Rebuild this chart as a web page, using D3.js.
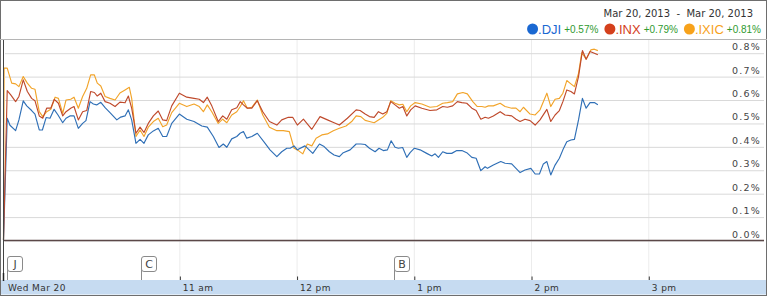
<!DOCTYPE html>
<html><head><meta charset="utf-8">
<script src="https://cdn.jsdelivr.net/npm/d3@7"></script>
<style>body{margin:0;background:#fff}svg{display:block}</style>
</head><body><svg id="c" width="767" height="296"></svg>
<script>
// ---- data (minutes after 9:30 open, % change) ----
const djiT = [0,1.9,3.3,6.2,7.9,10.1,11.9,14.4,16.1,18.3,19.9,21.8,23.8,25.9,27.9,30.3,32.0,34.0,36.1,38.3,40.5,42.2,44.3,46.0,47.7,49.8,52.0,54.5,58.0,60.0,62.2,63.9,65.6,67.8,69.9,71.9,74.1,76.7,79.2,81.5,83.5,86.1,90.0,93.8,97.5,101.5,104.3,107.4,110.3,112.5,114.3,116.8,119.4,121.1,122.8,124.5,127.1,129.9,133.9,136.4,139.9,142.4,145.0,146.7,148.7,150.4,154.3,158.3,161.7,164.1,166.8,169.2,171.9,173.9,177.4,180.5,182.9,185.1,187.3,190.2,192.2,194.4,196.5,198.4,200.4,202.1,204.3,206.4,208.1,210.3,213.2,216.6,219.2,220.9,222.6,224.8,226.9,229.4,232.0,234.6,237.1,239.7,241.9,244.3,246.5,247.7,250.7,254.5,256.7,260.1,262.3,264.4,266.9,269.9,272.1,274.3,276.3,278.1,280.1,282.3,284.5,286.3,288.3,290.4,292.2,294.3,296.3,298.2,300.2,302.4,304.2];
const djiV = [0,0.52,0.49,0.467,0.513,0.594,0.573,0.553,0.538,0.47,0.47,0.523,0.52,0.558,0.534,0.501,0.52,0.53,0.53,0.477,0.498,0.51,0.591,0.581,0.577,0.588,0.565,0.544,0.513,0.525,0.53,0.556,0.513,0.413,0.43,0.413,0.449,0.466,0.477,0.442,0.442,0.498,0.538,0.516,0.506,0.487,0.482,0.442,0.395,0.41,0.396,0.432,0.442,0.456,0.463,0.435,0.442,0.456,0.413,0.385,0.356,0.377,0.392,0.392,0.402,0.385,0.402,0.37,0.41,0.399,0.377,0.363,0.356,0.373,0.385,0.41,0.41,0.408,0.392,0.377,0.392,0.382,0.385,0.424,0.396,0.392,0.395,0.353,0.373,0.392,0.385,0.37,0.359,0.368,0.353,0.377,0.37,0.37,0.382,0.382,0.373,0.353,0.349,0.296,0.313,0.306,0.32,0.335,0.328,0.325,0.306,0.288,0.299,0.306,0.282,0.282,0.325,0.335,0.278,0.32,0.349,0.385,0.42,0.427,0.43,0.513,0.605,0.563,0.587,0.587,0.578];

const inxT = [0,1.9,3.7,6.2,7.9,10.1,12.2,14.4,16.1,18.3,20.1,22.1,24.2,26.0,28.1,30.3,32.0,34.4,36.1,38.3,40.5,42.6,44.6,46.5,48.0,49.8,52.0,54.5,57.1,59.6,62.2,63.9,65.6,67.8,69.9,71.9,74.1,76.7,79.2,81.5,83.5,86.1,90.0,93.8,97.5,100.2,102.3,104.3,106.6,109.9,112.2,114.3,116.8,119.4,121.2,122.8,124.8,127.1,129.9,132.7,136.1,139.9,142.4,145.8,148.0,150.4,153.5,157.8,162.0,165.8,169.2,171.9,176.0,180.5,182.5,185.1,187.3,189.7,191.9,194.1,196.2,198.2,200.4,202.6,204.4,206.4,208.4,210.7,214.1,218.3,221.8,224.8,227.2,229.9,232.3,234.6,237.1,239.7,241.9,244.3,246.5,248.2,250.7,254.2,256.7,260.1,262.3,264.4,266.9,269.5,272.1,274.6,278.1,280.1,282.3,284.5,286.3,288.3,290.4,292.2,294.3,296.3,298.2,300.2,302.4,304.2];
const inxV = [0,0.638,0.62,0.591,0.613,0.684,0.634,0.605,0.595,0.53,0.52,0.563,0.563,0.601,0.584,0.53,0.548,0.563,0.57,0.513,0.548,0.553,0.634,0.63,0.615,0.627,0.591,0.584,0.57,0.589,0.586,0.615,0.563,0.456,0.482,0.459,0.498,0.53,0.551,0.513,0.51,0.573,0.627,0.61,0.605,0.601,0.587,0.61,0.573,0.506,0.53,0.516,0.556,0.565,0.591,0.577,0.563,0.563,0.595,0.548,0.506,0.491,0.513,0.524,0.524,0.491,0.516,0.473,0.527,0.513,0.501,0.491,0.52,0.556,0.553,0.538,0.527,0.524,0.548,0.538,0.548,0.591,0.577,0.563,0.57,0.53,0.556,0.573,0.563,0.553,0.556,0.57,0.567,0.573,0.591,0.587,0.584,0.563,0.553,0.516,0.524,0.52,0.53,0.548,0.534,0.53,0.516,0.506,0.516,0.51,0.491,0.513,0.558,0.506,0.534,0.553,0.591,0.641,0.634,0.624,0.698,0.809,0.772,0.805,0.798,0.791];

const ixicT = [0,0.3,1.9,4.2,6.2,7.9,10.1,12.2,14.4,16.1,18.3,20.1,22.1,24.2,26.4,28.1,30.3,32.0,34.4,36.1,38.3,40.5,42.6,44.6,46.5,48.0,49.8,52.0,54.5,57.1,59.6,62.2,64.4,65.6,67.8,69.9,71.9,74.1,76.7,79.2,81.5,83.5,86.1,90.0,93.8,97.5,100.2,102.3,104.3,106.6,109.9,112.2,114.3,116.8,119.4,121.2,122.8,124.8,127.1,129.9,132.7,136.1,139.9,143.2,146.3,148.7,150.4,153.2,155.5,157.8,160.0,162.9,165.8,168.8,171.9,175.3,178.2,180.5,182.9,185.1,187.3,189.7,191.9,194.1,196.2,198.2,200.4,202.6,204.4,206.4,208.4,210.7,214.1,218.3,221.8,224.8,227.2,229.9,232.3,235.1,237.4,240.2,242.5,244.8,246.5,248.2,250.7,254.2,256.7,260.1,262.3,264.4,266.1,269.5,272.1,274.6,278.1,280.1,282.3,284.5,286.3,288.3,290.4,292.2,294.3,296.0,298.2,300.6,302.4,304.2];
const ixicV = [0,0.734,0.734,0.67,0.667,0.655,0.698,0.67,0.648,0.644,0.548,0.527,0.548,0.558,0.61,0.605,0.541,0.598,0.601,0.61,0.563,0.613,0.648,0.705,0.705,0.67,0.658,0.613,0.605,0.598,0.628,0.641,0.652,0.605,0.442,0.47,0.442,0.482,0.506,0.52,0.484,0.491,0.544,0.584,0.57,0.581,0.57,0.548,0.577,0.548,0.498,0.516,0.501,0.534,0.548,0.57,0.595,0.563,0.567,0.598,0.534,0.482,0.467,0.467,0.463,0.392,0.385,0.368,0.41,0.402,0.435,0.449,0.453,0.467,0.477,0.487,0.506,0.53,0.527,0.511,0.506,0.501,0.513,0.524,0.541,0.595,0.584,0.577,0.58,0.548,0.573,0.587,0.581,0.567,0.57,0.584,0.587,0.591,0.624,0.63,0.624,0.591,0.57,0.57,0.567,0.573,0.573,0.584,0.57,0.563,0.563,0.548,0.567,0.538,0.534,0.556,0.627,0.57,0.601,0.605,0.627,0.681,0.667,0.655,0.712,0.8,0.772,0.812,0.815,0.809];

const seriesNames = [".DJI", ".INX", ".IXIC"];
const seriesChange = ["+0.57%", "+0.79%", "+0.81%"];
const yTicks = [0,0.1,0.2,0.3,0.4,0.5,0.6,0.7,0.8];
const xTickMinutes = [90,150,210,270,330];
const xTickLabels = ["11 am","12 pm","1 pm","2 pm","3 pm"];
const dayLabel = "Wed Mar 20";
const dateRange = "Mar 20, 2013  -  Mar 20, 2013";
const flagLetters = ["J","C","B"];
const flagMinutes = [1.9, 70.2, 199.9];

// ---- drawing ----
const W = 767, H = 296;
const svg = d3.select("#c");
const x = d3.scaleLinear().domain([0, 390]).range([3.5, 765.5]);
const y = d3.scaleLinear().domain([0, 0.8]).range([240, 52.7]);
const lineColors = ["#2f6fb6", "#bf4a2c", "#f2a42a"];
const dotColors = ["#1a68d2", "#d4401c", "#f7a21b"];

// background border
svg.append("rect").attr("x",0.5).attr("y",0.5).attr("width",W-1).attr("height",H-1)
  .attr("fill","#fff").attr("stroke","#6e6e6e");

// vertical hour gridlines
svg.append("g").selectAll("line").data(xTickMinutes).join("line")
  .attr("x1", d => x(d)+0.5).attr("x2", d => x(d)+0.5)
  .attr("y1", 40).attr("y2", 280).attr("stroke", "#ececec");

// horizontal gridlines + labels via axis
const yAxis = d3.axisLeft(y).tickValues(yTicks).tickSize(W - 8).tickPadding(0).tickFormat(d => d3.format(".1f")(d) + "%");
const gy = svg.append("g").attr("transform", `translate(${W-3},0.5)`).call(yAxis);
gy.select(".domain").remove();
gy.selectAll(".tick line").attr("stroke", "#d9d9d9");
gy.selectAll(".tick text")
  .attr("x", -3).attr("dy", -3.5).attr("text-anchor","end")
  .style("font-family","DejaVu Sans, Verdana, sans-serif").style("font-size","9.5px")
  .style("letter-spacing","1.2px").attr("fill","#444");

// header separator
svg.append("line").attr("x1",0).attr("x2",W).attr("y1",39.5).attr("y2",39.5).attr("stroke","#b5b5b5");

// zero line
svg.append("line").attr("x1",x(0)).attr("x2",W-3).attr("y1",y(0)+0.5).attr("y2",y(0)+0.5)
  .attr("stroke","#5b4848").attr("stroke-width",1.3);

// series lines
const series = [
  {t: ixicT, v: ixicV, c: lineColors[2]},
  {t: djiT, v: djiV, c: lineColors[0]},
  {t: inxT, v: inxV, c: lineColors[1]}
];
const line = d3.line().x(d => x(d[0])).y(d => y(d[1]));
series.forEach(s => {
  svg.append("path").datum(d3.zip(s.t, s.v)).attr("d", line)
    .attr("fill","none").attr("stroke", s.c).attr("stroke-width",1.15).attr("stroke-linejoin","round");
});

// left axis line
svg.append("line").attr("x1",3.5).attr("x2",3.5).attr("y1",40).attr("y2",280).attr("stroke","#444");

// x axis band
svg.append("rect").attr("x",1).attr("y",280).attr("width",W-2).attr("height",14.5).attr("fill","#c6dbf1");
const xAxis = d3.axisTop(x).tickValues(xTickMinutes).tickSize(3.5).tickFormat("");
const gx = svg.append("g").attr("transform","translate(0.5,280)").call(xAxis);
gx.select(".domain").remove();
gx.selectAll(".tick line").attr("stroke","#333");
svg.append("line").attr("x1",3.5).attr("x2",3.5).attr("y1",273).attr("y2",281).attr("stroke","#222").attr("stroke-width",1.5);
svg.append("g").selectAll("text").data(xTickMinutes).join("text")
  .attr("x", d => x(d) + 3.5).attr("y", 291)
  .text((d,i) => xTickLabels[i])
  .style("font-family","DejaVu Sans, Verdana, sans-serif").style("font-size","9px")
  .style("letter-spacing","0.4px").attr("fill","#333");
svg.append("text").attr("x",8).attr("y",291).text(dayLabel)
  .style("font-family","DejaVu Sans, Verdana, sans-serif").style("font-size","9px")
  .style("letter-spacing","0.4px").attr("fill","#333");

// flags
const fg = svg.append("g").selectAll("g").data(flagLetters).join("g")
  .attr("transform", (d,i) => `translate(${Math.round(x(flagMinutes[i]))+0.5},0)`);
fg.append("line").attr("x1",0).attr("x2",0).attr("y1",266).attr("y2",280).attr("stroke","#8a8a8a");
fg.append("rect").attr("x",0).attr("y",256.5).attr("width",15).attr("height",15).attr("rx",2.5)
  .attr("fill","#fff").attr("stroke","#8a8a8a");
fg.append("text").attr("x",7.5).attr("y",268).attr("text-anchor","middle").text(d => d)
  .style("font-family","DejaVu Sans, Verdana, sans-serif").style("font-size","11px").attr("fill","#444");

// date range
svg.append("text").attr("x",753).attr("y",17).attr("text-anchor","end")
  .style("white-space","pre").text(dateRange)
  .style("font-family","DejaVu Sans, Verdana, sans-serif").style("font-size","10px").attr("fill","#333");

// legend
const lg = svg.append("g");
let cx = 0;
seriesNames.forEach((n,i) => {
  const g = lg.append("g");
  g.append("circle").attr("cx", cx + 5.5).attr("cy", 29).attr("r", 5.5).attr("fill", dotColors[i]);
  const t1 = g.append("text").attr("x", cx + 11).attr("y", 34).text(n)
    .style("font-family","Liberation Sans Narrow, Liberation Sans, Arial, sans-serif").style("font-size","13px").attr("fill", dotColors[i]);
  const w1 = t1.node().getComputedTextLength();
  const t2 = g.append("text").attr("x", cx + 11 + w1 + 3).attr("y", 33).text(seriesChange[i])
    .style("font-family","Liberation Sans, Arial, sans-serif").style("font-size","10px").attr("fill","#2f9a2f");
  const w2 = t2.node().getComputedTextLength();
  cx = cx + 11 + w1 + 3 + w2 + 6;
});
const total = cx - 6;
lg.attr("transform", `translate(${761 - total},0)`);
</script></body></html>
